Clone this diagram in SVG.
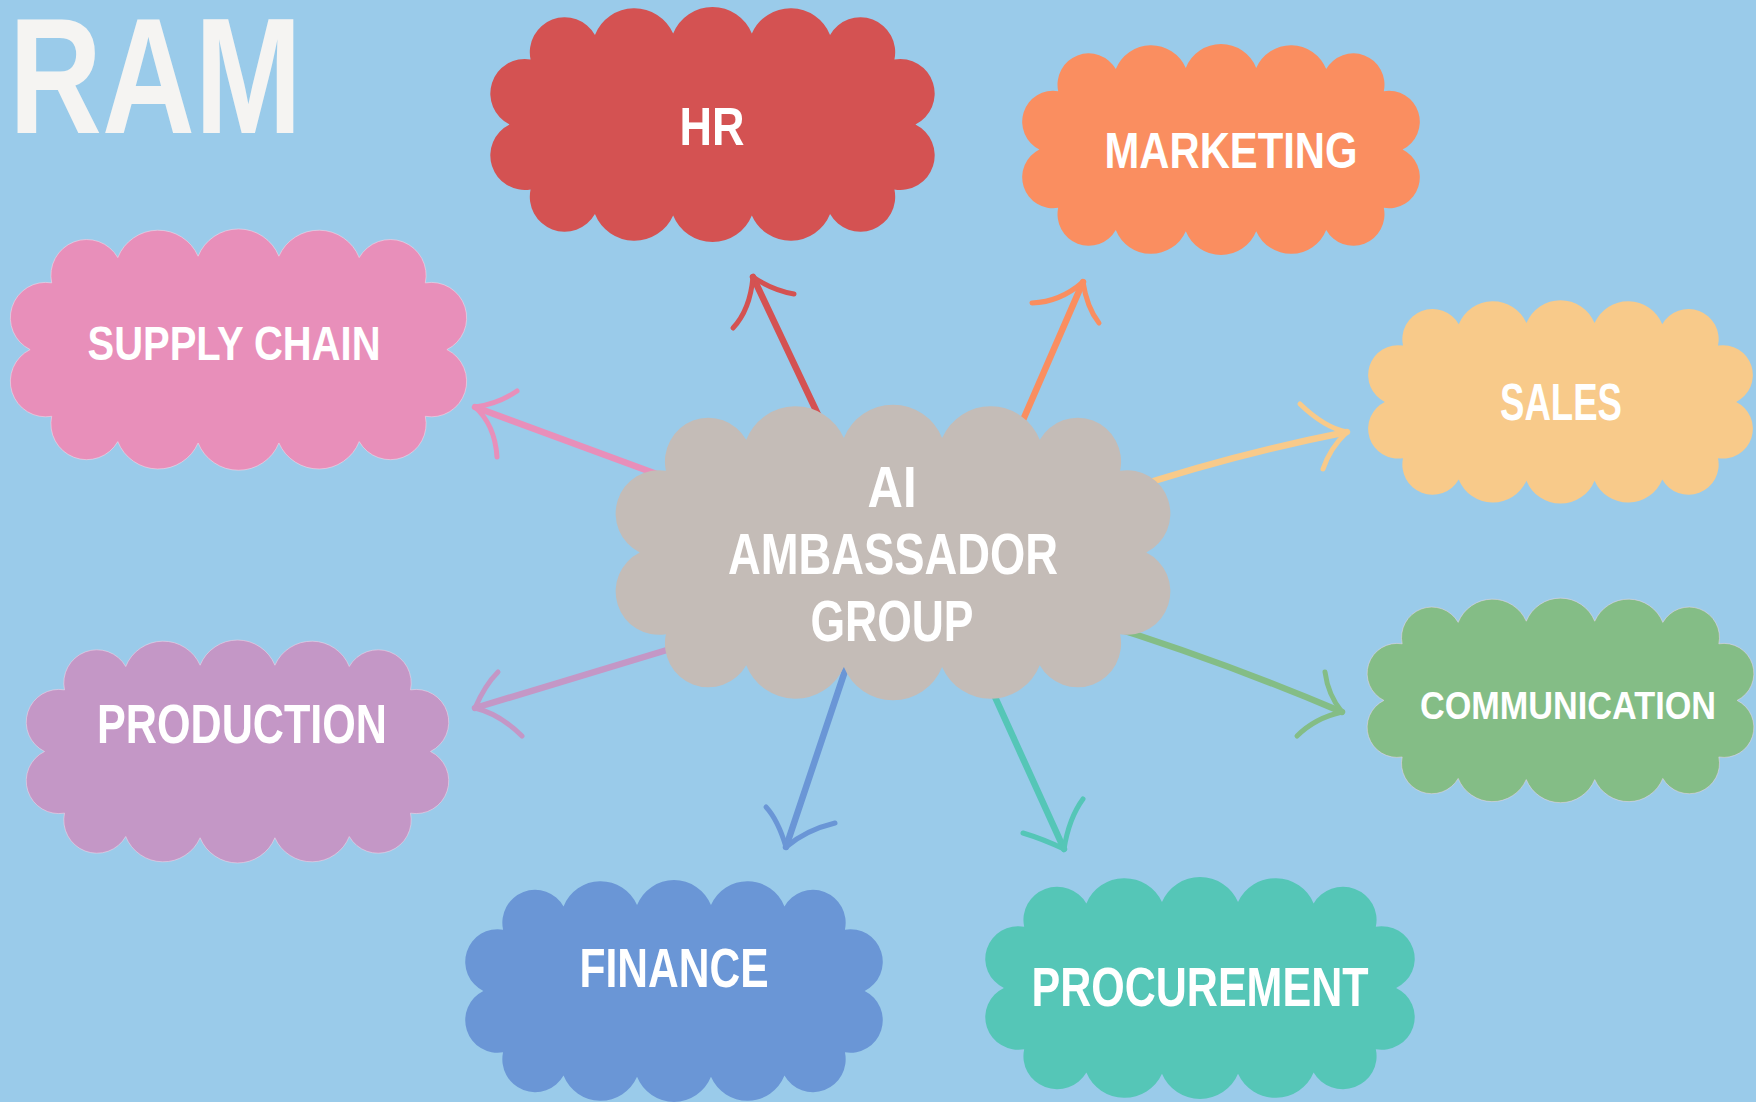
<svg xmlns="http://www.w3.org/2000/svg" xmlns:xlink="http://www.w3.org/1999/xlink" width="1756" height="1102" viewBox="0 0 1756 1102">
  <style>
    .lbl { font-family: "Liberation Sans", Arial, sans-serif; font-weight: 700; fill: #ffffff; text-anchor: middle; }
    .title { font-family: "Liberation Sans", Arial, sans-serif; font-weight: 700; fill: #f5f4f2; }
    .rim { stroke: #f4d6e6; stroke-width: 1.3; vector-effect: non-scaling-stroke; }
    .shaft { fill: none; stroke-width: 6.5; stroke-linecap: round; stroke-linejoin: round; }
    .barb { fill: none; stroke-width: 5; stroke-linecap: round; }
  </style>
  <defs>
    <!-- scalloped cloud outline in a 1000 x 520 box -->
    <path id="cloud" d="M93,115 A78,78 0 0 1 237,60 A95,95 0 0 1 412,57 A95,95 0 0 1 588,57 A95,95 0 0 1 763,60 A78,78 0 0 1 907,115 A77,77 0 0 1 954,260 A77,77 0 0 1 907,405 A78,78 0 0 1 763,460 A95,95 0 0 1 588,463 A95,95 0 0 1 412,463 A95,95 0 0 1 237,460 A78,78 0 0 1 93,405 A77,77 0 0 1 46,260 A77,77 0 0 1 93,115 Z"/>
  </defs>

  <rect width="1756" height="1102" fill="#9acbea"/>

  <text class="title" x="9" y="133" font-size="165" textLength="293" lengthAdjust="spacingAndGlyphs">RAM</text>

  <!-- brush arrows from the hub to each department -->
  <g id="connectors">
    <g stroke="#d45252">
      <path class="shaft" d="M830,440 L753,277"/>
      <path class="barb" d="M753,277 Q750,310 733,328"/>
      <path class="barb" d="M753,277 Q772,290 794,294"/>
    </g>
    <g stroke="#fa8e60">
      <path class="shaft" d="M1010,450 L1083,282"/>
      <path class="barb" d="M1083,282 Q1060,302 1032,303"/>
      <path class="barb" d="M1083,282 Q1087,308 1099,323"/>
    </g>
    <g stroke="#e88fba">
      <path class="shaft" d="M700,490 L475,407"/>
      <path class="barb" d="M475,407 Q498,404 517,391"/>
      <path class="barb" d="M475,407 Q495,425 497,457"/>
    </g>
    <g stroke="#f8ca8a">
      <path class="shaft" d="M1120,492 Q1230,455 1347,432"/>
      <path class="barb" d="M1347,432 Q1325,428 1300,404"/>
      <path class="barb" d="M1347,432 Q1330,448 1323,469"/>
    </g>
    <g stroke="#c497c6">
      <path class="shaft" d="M700,640 L475,708"/>
      <path class="barb" d="M475,708 Q485,685 498,672"/>
      <path class="barb" d="M475,708 Q500,714 522,736"/>
    </g>
    <g stroke="#84bd86">
      <path class="shaft" d="M1090,620 Q1220,660 1342,712"/>
      <path class="barb" d="M1342,712 Q1328,695 1325,672"/>
      <path class="barb" d="M1342,712 Q1315,718 1297,736"/>
    </g>
    <g stroke="#6a96d6">
      <path class="shaft" d="M852,650 L786,847"/>
      <path class="barb" d="M786,847 Q778,820 766,807"/>
      <path class="barb" d="M786,847 Q806,830 835,823"/>
    </g>
    <g stroke="#55c6b7">
      <path class="shaft" d="M985,675 L1064,849"/>
      <path class="barb" d="M1064,849 Q1043,839 1023,833"/>
      <path class="barb" d="M1064,849 Q1069,818 1083,799"/>
    </g>
  </g>

  <g id="node-hr">
    <use xlink:href="#cloud" transform="translate(489,8) scale(0.447,0.448)" fill="#d45252"/>
    <text class="lbl" x="712" y="145" font-size="54" textLength="65" lengthAdjust="spacingAndGlyphs">HR</text>
  </g>

  <g id="node-marketing">
    <use xlink:href="#cloud" transform="translate(1021,45) scale(0.4,0.402)" fill="#fa8e60"/>
    <text class="lbl" x="1231" y="168" font-size="50" textLength="253" lengthAdjust="spacingAndGlyphs">MARKETING</text>
  </g>

  <g id="node-supply-chain">
    <use xlink:href="#cloud" class="rim" transform="translate(9,230) scale(0.459,0.46)" fill="#e88fba"/>
    <text class="lbl" x="234" y="360" font-size="49" textLength="293" lengthAdjust="spacingAndGlyphs">SUPPLY CHAIN</text>
  </g>

  <g id="node-sales">
    <use xlink:href="#cloud" transform="translate(1367,301) scale(0.387,0.388)" fill="#f8ca8a"/>
    <text class="lbl" x="1561" y="420" font-size="52" textLength="122" lengthAdjust="spacingAndGlyphs">SALES</text>
  </g>

  <g id="node-communication">
    <use xlink:href="#cloud" class="rim" transform="translate(1366,599) scale(0.389,0.39)" fill="#84bd86"/>
    <text class="lbl" x="1568" y="719" font-size="38" textLength="296" lengthAdjust="spacingAndGlyphs">COMMUNICATION</text>
  </g>

  <g id="node-production">
    <use xlink:href="#cloud" class="rim" transform="translate(25,641) scale(0.425,0.425)" fill="#c497c6"/>
    <text class="lbl" x="242" y="743" font-size="56" textLength="290" lengthAdjust="spacingAndGlyphs">PRODUCTION</text>
  </g>

  <g id="node-finance">
    <use xlink:href="#cloud" transform="translate(464,881) scale(0.42,0.423)" fill="#6a96d6"/>
    <text class="lbl" x="674" y="987" font-size="55" textLength="189" lengthAdjust="spacingAndGlyphs">FINANCE</text>
  </g>

  <g id="node-procurement">
    <use xlink:href="#cloud" transform="translate(984,878) scale(0.432,0.423)" fill="#55c6b7"/>
    <text class="lbl" x="1200" y="1006" font-size="56" textLength="337" lengthAdjust="spacingAndGlyphs">PROCUREMENT</text>
  </g>

  <g id="node-ai-ambassador-group">
    <use xlink:href="#cloud" transform="translate(614,406) scale(0.558,0.5635)" fill="#c4bcb7"/>
    <text class="lbl" x="892" y="507" font-size="57" fill="#fbf9f6" textLength="49" lengthAdjust="spacingAndGlyphs">AI</text>
    <text class="lbl" x="893" y="574" font-size="57" fill="#fbf9f6" textLength="330" lengthAdjust="spacingAndGlyphs">AMBASSADOR</text>
    <text class="lbl" x="892" y="641" font-size="57" fill="#fbf9f6" textLength="163" lengthAdjust="spacingAndGlyphs">GROUP</text>
  </g>
</svg>
